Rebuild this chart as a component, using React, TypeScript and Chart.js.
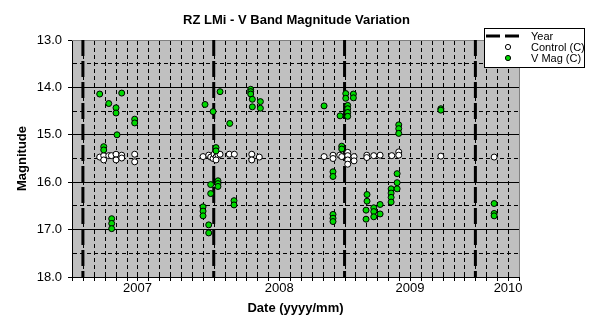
import React, { useEffect, useRef } from 'react';
import { Chart, registerables } from 'chart.js';

Chart.register(...registerables);

const FONT = '"Liberation Sans", Arial, Helvetica, sans-serif';

const chartTitle = 'RZ LMi - V Band Magnitude Variation';
const xAxisTitle = 'Date (yyyy/mm)';
const yAxisTitle = 'Magnitude';
const legendLabels = ['Year', 'Control (C)', 'V Mag (C)'];

// x values: months since 2007-01-01
const xMin = -1;
const xMax = 40;
const yMin = 13;
const yMax = 18;
const yearLineMonths = [0, 12, 24, 36];
const yearTickMonths = [5, 18, 30, 39];
const yearTickLabels = ['2007', '2008', '2009', '2010'];

const controlMonths = [
  1.54, 1.91, 1.91, 2.37, 2.61, 3.04, 3.04, 3.56, 3.56, 4.75, 4.75,
  11.02, 11.54, 11.72, 11.94, 12.03, 12.21, 12.39, 12.58, 12.21, 13.43, 13.89, 15.49, 15.49, 16.18,
  22.12, 22.94, 22.94, 23.56, 23.74, 24.29, 24.29, 24.29, 24.29, 24.87, 24.87, 26.04, 26.04, 26.68, 27.26, 28.33, 28.97, 28.97,
  32.83, 37.72,
];
const controlMags = [
  15.47, 15.44, 15.53, 15.44, 15.44, 15.41, 15.53, 15.43, 15.49, 15.41, 15.57,
  15.46, 15.43, 15.47, 15.5, 15.41, 15.47, 15.43, 15.41, 15.53, 15.41, 15.41, 15.41, 15.53, 15.47,
  15.46, 15.43, 15.5, 15.43, 15.46, 15.37, 15.44, 15.53, 15.62, 15.46, 15.55, 15.43, 15.48, 15.44, 15.43, 15.44, 15.36, 15.43,
  15.45, 15.47,
];

const vmagMonths = [
  1.54, 3.56, 2.37, 3.04, 3.04, 4.75, 4.75, 3.13, 1.91, 1.91, 2.64, 2.64, 2.64,
  12.58, 11.2, 11.94, 13.47, 15.39, 15.39, 15.39, 15.54, 16.28, 15.54, 16.28, 12.21, 12.21,
  12.39, 12.39, 12.39, 11.72, 11.72, 13.86, 13.86, 11.02, 11.02, 11.02, 11.54, 11.54,
  22.12, 23.59, 24.11, 24.11, 24.81, 24.81, 24.29, 24.29, 24.29, 24.29, 28.97, 28.97, 28.97,
  23.74, 23.74, 22.94, 22.94, 22.94, 22.94, 22.94, 26.06, 26.06, 25.97, 25.97, 26.68, 26.68, 26.68,
  27.26, 27.26, 28.27, 28.27, 28.27, 28.27, 28.82, 28.82, 28.82,
  32.83, 32.83, 37.72, 37.72, 37.72,
];
const vmagMags = [
  14.14, 14.12, 14.34, 14.43, 14.54, 14.67, 14.75, 15.0, 15.25, 15.32, 16.77, 16.87, 16.98,
  14.09, 14.36, 14.51, 14.76, 14.04, 14.09, 14.14, 14.25, 14.3, 14.41, 14.44, 15.27, 15.34,
  15.97, 16.03, 16.09, 16.05, 16.24, 16.39, 16.48, 16.52, 16.61, 16.71, 16.9, 17.07,
  14.39, 14.6, 14.13, 14.23, 14.14, 14.22, 14.38, 14.45, 14.53, 14.61, 14.79, 14.87, 14.97,
  15.24, 15.3, 15.78, 15.88, 16.68, 16.76, 16.83, 16.26, 16.4, 16.59, 16.78, 16.54, 16.62, 16.73,
  16.47, 16.67, 16.14, 16.23, 16.32, 16.42, 15.82, 16.01, 16.14,
  14.45, 14.48, 16.45, 16.66, 16.71,
];

const GREEN = '#00d800';

const overlayPlugin = {
  id: 'overlay',
  beforeDraw(chart: any) {
    const { ctx, chartArea: a } = chart;
    ctx.save();
    ctx.fillStyle = '#c0c0c0';
    ctx.fillRect(a.left, a.top, a.right - a.left, a.bottom - a.top);
    ctx.restore();
  },
  beforeDatasetsDraw(chart: any) {
    const { ctx, chartArea: a } = chart;
    const xs = chart.scales.x;
    ctx.save();
    // monthly dashed grid lines and tick marks from the x scale
    ctx.strokeStyle = '#000';
    ctx.lineWidth = 1;
    const bottom = Math.round(a.bottom);
    for (let m = Math.ceil(xs.min); m <= Math.floor(xs.max); m++) {
      const px = Math.round(xs.getPixelForValue(m)) + 0.5;
      if (m > xs.min && m < xs.max) {
        ctx.setLineDash([4, 3]);
        ctx.beginPath();
        ctx.moveTo(px, a.top + 1);
        ctx.lineTo(px, bottom);
        ctx.stroke();
      }
      ctx.setLineDash([]);
      ctx.beginPath();
      ctx.moveTo(px, bottom - 3);
      ctx.lineTo(px, bottom + 4);
      ctx.stroke();
    }
    // plot-area border (top and right)
    ctx.setLineDash([]);
    ctx.strokeStyle = '#808080';
    ctx.beginPath();
    ctx.moveTo(Math.round(a.left), Math.round(a.top) + 0.5);
    ctx.lineTo(Math.round(a.right) + 0.5, Math.round(a.top) + 0.5);
    ctx.lineTo(Math.round(a.right) + 0.5, Math.round(a.bottom));
    ctx.stroke();
    ctx.restore();
  },
  afterDraw(chart: any) {
    const { ctx } = chart;
    ctx.save();
    // title
    ctx.fillStyle = '#000';
    ctx.font = `bold 13px ${FONT}`;
    ctx.textAlign = 'center';
    ctx.textBaseline = 'middle';
    ctx.fillText(chartTitle, 296.5, 20.5);

    // legend
    const bx = 484, by = 28, bw = 100, bh = 40;
    ctx.fillStyle = '#fff';
    ctx.fillRect(bx, by, bw, bh);
    ctx.strokeStyle = '#000';
    ctx.lineWidth = 1;
    ctx.strokeRect(bx + 0.5, by + 0.5, bw, bh - 1);
    const rows = [36, 47, 58];
    const ds = chart.data.datasets;
    ctx.save();
    ctx.strokeStyle = ds[0].borderColor;
    ctx.lineWidth = 3;
    ctx.setLineDash([14, 5]);
    ctx.beginPath();
    ctx.moveTo(bx + 2, rows[0]);
    ctx.lineTo(bx + 35, rows[0]);
    ctx.stroke();
    ctx.restore();
    for (let i = 1; i < 3; i++) {
      ctx.beginPath();
      ctx.arc(508, rows[i], 2.6, 0, Math.PI * 2);
      ctx.fillStyle = ds[i].backgroundColor;
      ctx.fill();
      ctx.strokeStyle = '#000';
      ctx.lineWidth = 1;
      ctx.stroke();
    }
    ctx.fillStyle = '#000';
    ctx.font = `11px ${FONT}`;
    ctx.textAlign = 'left';
    ctx.textBaseline = 'middle';
    legendLabels.forEach((t, i) => ctx.fillText(t, 531, rows[i] + 0.5));
    ctx.restore();
  },
};

export default function App() {
  const ref = useRef<HTMLCanvasElement>(null);

  useEffect(() => {
    if (!ref.current) return;
    const yearData: any[] = [];
    yearLineMonths.forEach((m) => {
      yearData.push({ x: m, y: yMin }, { x: m, y: yMax }, { x: m, y: null });
    });
    const chart = new Chart(ref.current, {
      type: 'scatter',
      data: {
        datasets: [
          {
            label: legendLabels[0],
            data: yearData,
            showLine: true,
            borderColor: '#000',
            backgroundColor: '#000',
            borderWidth: 3,
            borderDash: [16, 5],
            pointRadius: 0,
            spanGaps: false,
            order: 2,
          },
          {
            label: legendLabels[1],
            data: controlMonths.map((x, i) => ({ x, y: controlMags[i] })),
            backgroundColor: '#ffffff',
            borderColor: '#000',
            borderWidth: 1,
            pointRadius: 3,
            order: 1,
          },
          {
            label: legendLabels[2],
            data: vmagMonths.map((x, i) => ({ x, y: vmagMags[i] })),
            backgroundColor: GREEN,
            borderColor: '#000',
            borderWidth: 1,
            pointRadius: 3,
            order: 0,
          },
        ],
      },
      options: {
        responsive: false,
        animation: false,
        events: [],
        layout: { padding: { left: 0, right: 74, top: 40, bottom: 0 } },
        plugins: {
          legend: { display: false },
          tooltip: { enabled: false },
          title: { display: false },
        },
        scales: {
          x: {
            type: 'linear',
            min: xMin,
            max: xMax,
            afterFit: (s: any) => {
              s.height = 44;
            },
            ticks: {
              stepSize: 1,
              autoSkip: false,
              maxRotation: 0,
              padding: 0,
              color: '#000',
              font: { family: FONT, size: 13 },
              callback: (v: any) => {
                const i = yearTickMonths.indexOf(Math.round(Number(v)));
                return i >= 0 ? yearTickLabels[i] : '';
              },
            },
            grid: {
              display: false,
              drawTicks: true,
              tickLength: 4,
            },
            border: {
              display: true,
              color: '#000',
              width: 1,
            },
            title: {
              display: true,
              text: xAxisTitle,
              color: '#000',
              font: { family: FONT, size: 13, weight: 'bold' },
              padding: { top: 0, bottom: 5 },
            },
          },
          y: {
            type: 'linear',
            reverse: true,
            min: yMin,
            max: yMax,
            afterFit: (s: any) => {
              s.width = 72;
            },
            ticks: {
              stepSize: 0.5,
              padding: 6,
              color: '#000',
              font: { family: FONT, size: 13 },
              callback: (v: any) => (Number.isInteger(Number(v)) ? Number(v).toFixed(1) : ''),
            },
            grid: {
              color: (c: any) => (c.tick && c.tick.value === yMin ? 'rgba(0,0,0,0)' : '#000'),
              tickColor: (c: any) =>
                c.tick && Number.isInteger(c.tick.value) ? '#000' : 'rgba(0,0,0,0)',
              lineWidth: 1,
              tickLength: 4,
            },
            border: {
              display: true,
              color: '#000',
              width: 1,
              dash: (c: any) => (c.type === 'tick' && !Number.isInteger(c.tick.value) ? [4, 3] : []),
            },
            title: {
              display: true,
              text: yAxisTitle,
              color: '#000',
              font: { family: FONT, size: 13, weight: 'bold' },
              padding: { top: 15, bottom: 0 },
            },
          },
        },
      } as any,
      plugins: [overlayPlugin],
    });
    return () => chart.destroy();
  }, []);

  return (
    <div style={{ position: 'fixed', left: 0, top: 0, width: 593, height: 321, background: '#fff' }}>
      <canvas ref={ref} width={593} height={321} style={{ display: 'block', width: 593, height: 321 }} />
    </div>
  );
}
